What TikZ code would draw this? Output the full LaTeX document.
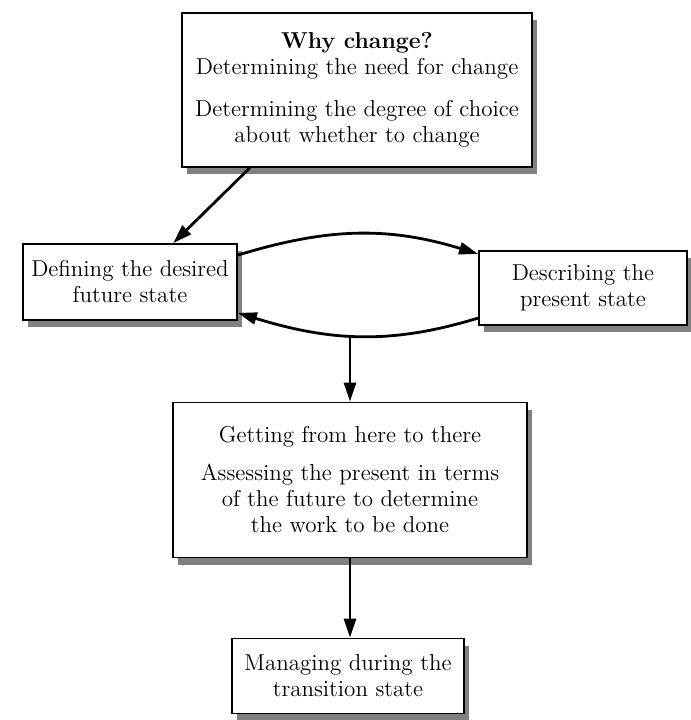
\documentclass[tikz,border=0pt]{standalone}
\usepackage{tikz}
\usetikzlibrary{arrows.meta,shadows}

\begin{document}
\begin{tikzpicture}[x=0.5pt,y=0.5pt,
  box/.style={draw,line width=0.9pt,fill=white,align=center,inner sep=2pt,
    font=\fontsize{11.5}{13}\selectfont,
    drop shadow={shadow xshift=2.5pt,shadow yshift=-3.5pt,fill=black!50,opacity=1}},
  link/.style={line width=1.4pt,-{Triangle[length=9.5pt,width=6pt]}}]
\useasboundingbox (0,0) rectangle (691,720);

\node[box,minimum width=175pt,minimum height=77pt] (why) at (357,630)
  {\textbf{Why change?}\\Determining the need for change\\[8pt]Determining the degree of choice\\about whether to change};
\node[box,minimum width=107pt,minimum height=38pt] (future) at (130,438)
  {Defining the desired\\future state};
\node[box,minimum width=104pt,minimum height=37pt] (present) at (583,432)
  {Describing the\\present state};
\node[box,minimum width=177pt,minimum height=77.5pt] (gap) at (350,240)
  {Getting from here to there\\[6pt]Assessing the present in terms\\of the future to determine\\the work to be done};
\node[box,minimum width=116pt,minimum height=37.5pt] (transition) at (348,44)
  {Managing during the\\transition state};

\draw[link] (why.216) -- (future.42);
\draw[link] (future.14) to[out=17,in=163] (present.162);
\draw[link] (present.196) to[out=197,in=-17] coordinate[pos=0.5] (dip) (future.344);
\draw[link] (gap.north |- dip) -- (gap.north);
\draw[link] (gap.south) -- (gap.south |- transition.north);
\end{tikzpicture}
\end{document}
